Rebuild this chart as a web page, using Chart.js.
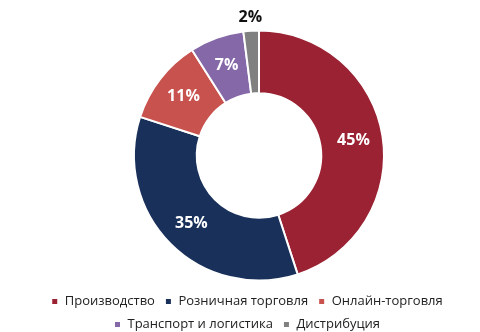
<!DOCTYPE html>
<html lang="ru">
<head>
<meta charset="UTF-8">
<title>Структура</title>
<script src="https://cdn.jsdelivr.net/npm/chart.js"></script>
<style>
  html, body { margin: 0; padding: 0; background: #fff; }
  #wrap { width: 480px; height: 332px; }
</style>
</head>
<body>
<div id="wrap"><canvas id="pie" width="480" height="332"></canvas></div>
<script>
  // доли по сегментам, %
  var sectors = ['Производство', 'Розничная торговля', 'Онлайн-торговля', 'Транспорт и логистика', 'Дистрибуция'];
  var shares = [45, 35, 11, 7, 2];
  var colors = ['#9a2232', '#18305a', '#c8524e', '#8468a8', '#808080'];

  // кольцо чуть правее центра легенды
  var shiftRing = {
    id: 'shiftRing',
    afterLayout: function (chart) {
      chart.chartArea.left += 12;
      chart.chartArea.right += 12;
    }
  };

  // подписи процентов: внутри кольца белым, маленький сегмент снаружи
  var pctLabels = {
    id: 'pctLabels',
    afterDatasetsDraw: function (chart) {
      var ctx = chart.ctx;
      var meta = chart.getDatasetMeta(0);
      ctx.save();
      ctx.font = 'bold 16px "Open Sans", sans-serif';
      ctx.textAlign = 'center';
      ctx.textBaseline = 'middle';
      meta.data.forEach(function (arc, i) {
        var mid = (arc.startAngle + arc.endAngle) / 2;
        var r, color;
        if (shares[i] < 5) {
          r = arc.outerRadius + 13;
          color = '#111';
        } else {
          r = (arc.innerRadius + arc.outerRadius) / 2 + 2;
          color = '#fff';
        }
        ctx.fillStyle = color;
        ctx.fillText(shares[i] + '%', arc.x + Math.cos(mid) * r, arc.y + Math.sin(mid) * r);
      });
      ctx.restore();
    }
  };

  new Chart(document.getElementById('pie'), {
    type: 'doughnut',
    data: {
      labels: sectors,
      datasets: [{
        data: shares,
        backgroundColor: colors,
        borderColor: '#fff',
        borderWidth: 2,
        radius: 125,
        cutout: 64
      }]
    },
    options: {
      responsive: false,
      animation: false,
      layout: { padding: { top: 26, bottom: -9, left: 14, right: 0 } },
      plugins: {
        tooltip: { enabled: false },
        legend: {
          position: 'bottom',
          labels: {
            usePointStyle: true,
            pointStyle: 'rect',
            boxWidth: 7,
            boxHeight: 7,
            padding: 10,
            color: '#222',
            font: { family: '"Open Sans", sans-serif', size: 13 }
          }
        }
      }
    },
    plugins: [shiftRing, pctLabels]
  });
</script>
</body>
</html>
